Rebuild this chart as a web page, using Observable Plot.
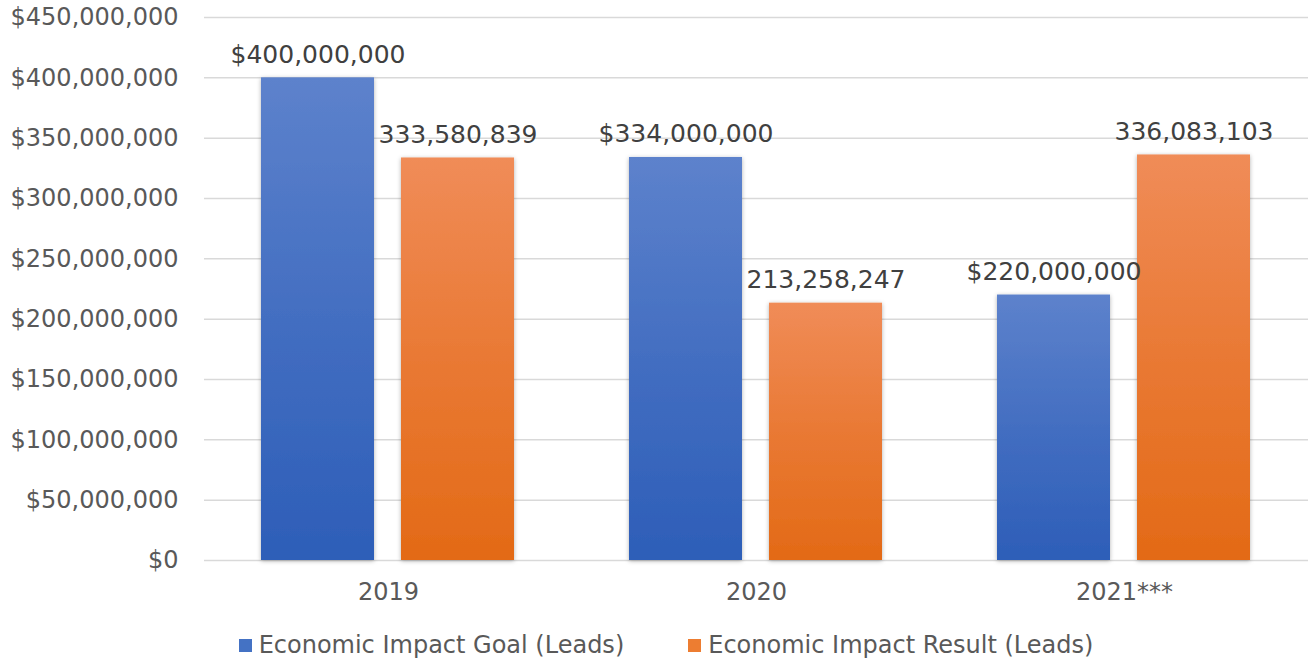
<!DOCTYPE html>
<html>
<head>
<meta charset="utf-8">
<script src="https://cdn.jsdelivr.net/npm/d3@7"></script>
<script src="https://cdn.jsdelivr.net/npm/@observablehq/plot@0.6"></script>
<style>
  html, body { margin: 0; padding: 0; background: #fff; }
  body { width: 1312px; height: 659px; overflow: hidden; font-family: "DejaVu Sans", Verdana, sans-serif; }
  #legend { display: flex; justify-content: center; align-items: center; gap: 64px; font-size: 24px; color: #595959; margin-top: 11px; margin-left: 20px; }
  #legend .item { display: flex; align-items: center; }
  #legend .sw { width: 13px; height: 13px; margin-right: 7px; }
</style>
</head>
<body>
<div id="chart"></div>
<div id="legend"></div>
<script>
const years = ["2019", "2020", "2021***"];
const seriesNames = ["Economic Impact Goal (Leads)", "Economic Impact Result (Leads)"];
const goalValues = [400000000, 334000000, 220000000];
const resultValues = [333580839, 213258247, 336083103];
const yTicks = [0, 50e6, 100e6, 150e6, 200e6, 250e6, 300e6, 350e6, 400e6, 450e6];
const seriesColors = ["#4472C4", "#ED7D31"];

const rows = [];
years.forEach((yr, i) => {
  rows.push({year: yr, series: seriesNames[0], value: goalValues[i], label: "$" + d3.format(",")(goalValues[i])});
  rows.push({year: yr, series: seriesNames[1], value: resultValues[i], label: d3.format(",")(resultValues[i])});
});

const defs = () => {
  const d = d3.create("svg:defs");
  const mk = (id, top, bottom) => {
    const g = d.append("linearGradient").attr("id", id).attr("x1", 0).attr("y1", 0).attr("x2", 0).attr("y2", 1);
    g.append("stop").attr("offset", "0%").attr("stop-color", top);
    g.append("stop").attr("offset", "50%").attr("stop-color", d3.interpolateRgb(top, bottom)(0.55));
    g.append("stop").attr("offset", "100%").attr("stop-color", bottom);
  };
  mk("gradBlue", "#5D82CC", "#2D5EB8");
  mk("gradOrange", "#F08C58", "#E36A16");
  const f = d.append("filter").attr("id", "shadow").attr("x", "-10%").attr("y", "-10%").attr("width", "120%").attr("height", "120%");
  f.append("feDropShadow").attr("dx", 0).attr("dy", 1).attr("stdDeviation", 2).attr("flood-color", "#000").attr("flood-opacity", 0.3);
  return d.node();
};

const fmtAxis = v => "$" + d3.format(",")(v);

const plot = Plot.plot({
  width: 1312,
  height: 620,
  marginLeft: 204,
  marginRight: 4,
  marginTop: 17,
  marginBottom: 60,
  style: {fontFamily: "'DejaVu Sans', Verdana, sans-serif", background: "#fff"},
  fx: {domain: years, padding: 0, axis: null},
  x: {domain: seriesNames, paddingInner: 0.19, paddingOuter: 0.4, axis: null},
  y: {domain: [0, 450e6], axis: null},
  marks: [
    defs,
    Plot.gridY(yTicks, {stroke: "#d9d9d9", strokeOpacity: 1, strokeWidth: 1.5}),
    Plot.axisY({ticks: yTicks, tickSize: 0, tickPadding: 26, tickFormat: fmtAxis, fontSize: 24, fill: "#595959", label: null, facetAnchor: "left"}),
    Plot.axisFx({anchor: "bottom", tickSize: 0, tickPadding: 22, fontSize: 24, fill: "#595959", label: null}),
    Plot.barY(rows.filter(d => d.series === seriesNames[0]), {fx: "year", x: "series", y: "value", fill: "url(#gradBlue)"}),
    Plot.barY(rows.filter(d => d.series === seriesNames[1]), {fx: "year", x: "series", y: "value", fill: "url(#gradOrange)"}),
    Plot.text(rows, {fx: "year", x: "series", y: "value", text: "label", lineAnchor: "bottom", dy: -15, fontSize: 25, fill: "#404040"})
  ]
});
plot.querySelectorAll("g[aria-label='bar'] rect").forEach(r => r.setAttribute("filter", "url(#shadow)"));
document.getElementById("chart").appendChild(plot);

const legend = document.getElementById("legend");
seriesNames.forEach((name, i) => {
  const item = document.createElement("div");
  item.className = "item";
  const sw = document.createElement("div");
  sw.className = "sw";
  sw.style.background = seriesColors[i];
  const t = document.createElement("span");
  t.textContent = name;
  item.appendChild(sw);
  item.appendChild(t);
  legend.appendChild(item);
});
</script>
</body>
</html>
